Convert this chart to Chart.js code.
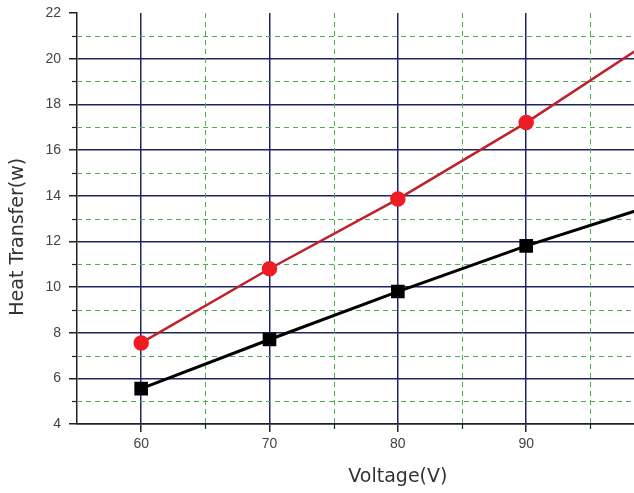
<!DOCTYPE html>
<html>
<head>
<meta charset="utf-8">
<script src="https://cdn.jsdelivr.net/npm/chart.js@4"></script>
<style>
  html, body { margin: 0; padding: 0; background: #fff; overflow: hidden; }
  #wrap { width: 634px; height: 493px; position: relative; }
  canvas { display: block; }
</style>
</head>
<body>
<div id="wrap"><canvas id="chart"></canvas></div>
<script>
// Voltage (V) on x, heat transfer (w) on y
const voltage = [60, 70, 80, 90, 100];
const upperSeries = [7.55, 10.8, 13.85, 17.2, 20.9];   // red circles
const lowerSeries = [5.55, 7.7, 9.8, 11.8, 13.6];      // black squares

const xMajorTicks = [60, 70, 80, 90];
const xMinorTicks = [65, 75, 85, 95];
const yMajorTicks = [4, 6, 8, 10, 12, 14, 16, 18, 20, 22];
const yMinorTicks = [5, 7, 9, 11, 13, 15, 17, 19, 21];

const xTitle = "Voltage(V)";
const yTitle = "Heat Transfer(w)";

const majorColor = "#1f2466";
const minorColor = "#4fae4f";
const axisColor = "#222";

function points(ys) {
  return voltage.map((v, i) => ({ x: v, y: ys[i] }));
}

// dashed minor grid + short minor ticks
const minorGrid = {
  id: "minorGrid",
  beforeDatasetsDraw(chart) {
    const { ctx, chartArea: a, scales } = chart;
    ctx.save();
    ctx.strokeStyle = minorColor;
    ctx.lineWidth = 1;
    ctx.setLineDash([5, 4]);
    xMinorTicks.forEach(v => {
      const px = Math.round(scales.x.getPixelForValue(v)) + 0.5;
      ctx.beginPath(); ctx.moveTo(px, a.top); ctx.lineTo(px, a.bottom); ctx.stroke();
    });
    yMinorTicks.forEach(v => {
      const py = Math.round(scales.y.getPixelForValue(v)) + 0.5;
      ctx.beginPath(); ctx.moveTo(a.left, py); ctx.lineTo(a.right, py); ctx.stroke();
    });
    ctx.setLineDash([]);
    ctx.strokeStyle = axisColor;
    ctx.lineWidth = 1.2;
    xMinorTicks.forEach(v => {
      const px = Math.round(scales.x.getPixelForValue(v)) + 0.5;
      ctx.beginPath(); ctx.moveTo(px, a.bottom); ctx.lineTo(px, a.bottom + 5); ctx.stroke();
    });
    yMinorTicks.forEach(v => {
      const py = Math.round(scales.y.getPixelForValue(v)) + 0.5;
      ctx.beginPath(); ctx.moveTo(a.left - 5, py); ctx.lineTo(a.left, py); ctx.stroke();
    });
    ctx.restore();
  }
};

// axis titles: the original plot was wider/taller than this crop,
// so the titles sit off the centre of the visible area
const axisTitles = {
  id: "axisTitles",
  afterDraw(chart) {
    const { ctx, scales } = chart;
    ctx.save();
    ctx.fillStyle = "#333";
    ctx.font = "19px 'DejaVu Sans'";
    ctx.textAlign = "center";
    ctx.textBaseline = "middle";
    ctx.fillText(xTitle, scales.x.getPixelForValue(80), 477);
    ctx.translate(18, scales.y.getPixelForValue(12.2));
    ctx.rotate(-Math.PI / 2);
    ctx.fillText(yTitle, 0, 0);
    ctx.restore();
  }
};

new Chart(document.getElementById("chart"), {
  type: "line",
  data: {
    datasets: [{
      label: "upper",
      data: points(upperSeries),
      borderColor: "#c0202a",
      borderWidth: 2.5,
      pointStyle: "circle",
      pointRadius: 6.5,
      pointBackgroundColor: "#ee1c24",
      pointBorderColor: "#ee1c24",
      tension: 0
    }, {
      label: "lower",
      data: points(lowerSeries),
      borderColor: "#000",
      borderWidth: 3,
      pointStyle: "rect",
      pointRadius: 7.5,
      pointBackgroundColor: "#000",
      pointBorderColor: "#000",
      tension: 0
    }]
  },
  plugins: [minorGrid, axisTitles],
  options: {
    responsive: true,
    maintainAspectRatio: false,
    animation: false,
    layout: { autoPadding: false, padding: { top: 13, right: 0, left: 0, bottom: 0 } },
    plugins: {
      legend: { display: false },
      tooltip: { enabled: false }
    },
    scales: {
      x: {
        type: "linear",
        min: 55,
        max: 98.4,
        afterBuildTicks: s => { s.ticks = xMajorTicks.map(v => ({ value: v })); },
        afterFit: s => { s.height = 69; s.paddingLeft = 0; s.paddingRight = 0; },
        grid: {
          color: majorColor,
          lineWidth: 1.5,
          tickColor: axisColor,
          tickLength: 8
        },
        border: { color: axisColor, width: 1.5 },
        ticks: {
          padding: 4,
          color: "#444",
          font: { family: "Liberation Sans", size: 14 },
          maxRotation: 0
        }
      },
      y: {
        min: 4,
        max: 22,
        afterBuildTicks: s => { s.ticks = yMajorTicks.map(v => ({ value: v })); },
        afterFit: s => { s.width = 77; s.paddingTop = 0; s.paddingBottom = 0; },
        grid: {
          color: c => (c.tick && c.tick.value === 22) ? "rgba(0,0,0,0)" : majorColor,
          lineWidth: 1.5,
          tickColor: axisColor,
          tickLength: 8
        },
        border: { color: axisColor, width: 1.5 },
        ticks: {
          padding: 8,
          color: "#444",
          font: { family: "Liberation Sans", size: 14 }
        }
      }
    }
  }
});
</script>
</body>
</html>
